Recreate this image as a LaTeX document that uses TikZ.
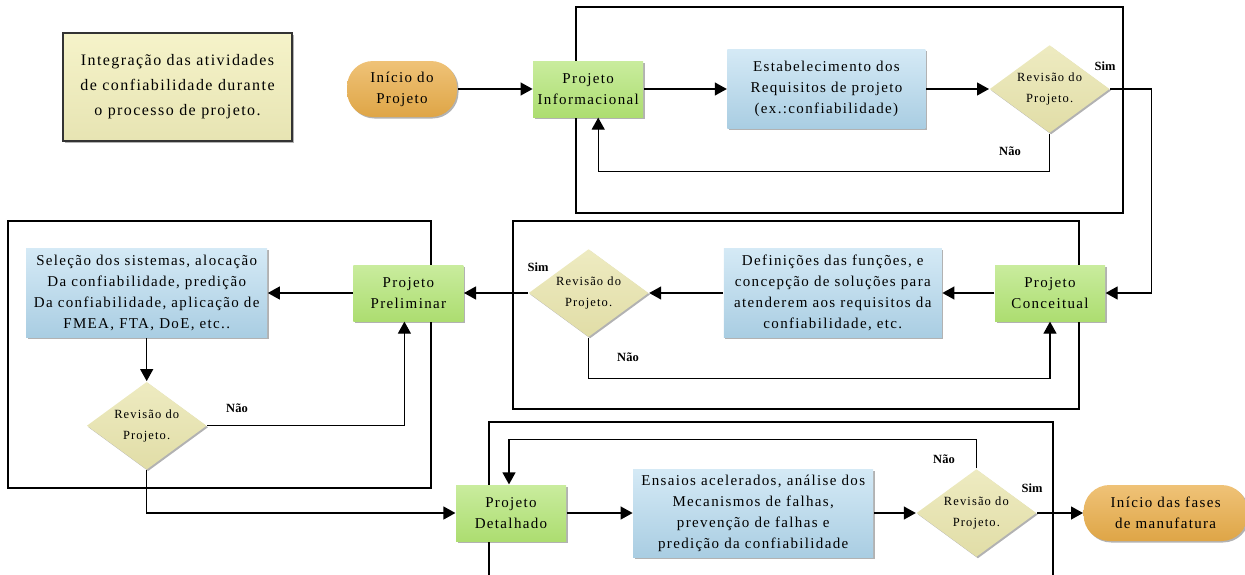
\documentclass[tikz,border=0pt]{standalone}
\usepackage{fontspec}
\setmainfont{Liberation Serif}[LetterSpace=9]
\newfontfamily\lblfont{Liberation Serif}
\usepackage{tikz}
\usetikzlibrary{arrows.meta}
\usetikzlibrary{positioning}
\usetikzlibrary{shapes.geometric}
\usetikzlibrary{shadows}

\definecolor{laranja}{RGB}{234,174,74}
\definecolor{verde}{RGB}{178,228,116}
\definecolor{azul}{RGB}{178,216,238}
\definecolor{bege}{RGB}{232,228,172}
\definecolor{nota}{RGB}{243,240,188}

\begin{document}
\begin{tikzpicture}[x=1pt, y=-1pt, line width=1.2pt, >={Triangle[length=12pt,width=13pt]},
  sombra/.style={drop shadow={shadow xshift=1.5pt,shadow yshift=-1.5pt,opacity=.3,fill=black}},
  inicio/.style={rectangle, rounded corners=26pt, minimum width=110pt, minimum height=56pt, top color=laranja!75!white, bottom color=laranja!95!black, sombra, align=center, font=\fontsize{15}{21}\selectfont},
  fase/.style={rectangle, minimum width=110pt, minimum height=56pt, inner sep=2pt, top color=verde!70!white, bottom color=verde!97!black, sombra, align=center, font=\fontsize{15}{21}\selectfont},
  ativ/.style={rectangle, inner sep=2pt, top color=azul!55!white, bottom color=azul!95!black, sombra, align=center, font=\fontsize{15}{21}\selectfont},
  rev/.style={diamond, shape aspect=1.35, minimum width=120pt, minimum height=88pt, inner sep=0pt, top color=bege!75!white, bottom color=bege!97!black, sombra, align=center, font=\fontsize{12.5}{21}\selectfont},
  lbl/.style={font=\lblfont\bfseries\fontsize{12.5}{14}\selectfont}]
\useasboundingbox (0,0) rectangle (1245,574);

\draw (576,7) rectangle (1123,213);
\draw (513,221) rectangle (1079,409);
\draw (8,221) rectangle (431,488);
\draw (489,580) -- (489,422) -- (1053,422) -- (1053,580);

\node[rectangle, draw=black!80, line width=1.3pt, minimum width=229pt, minimum height=108pt, top color=nota!80!white, bottom color=nota!95!black, sombra, align=center, font=\fontsize{16}{25}\selectfont] (N) at (177.5,87) {Integração das atividades\\de confiabilidade durante\\o processo de projeto.};

\node[inicio] (I) at (402,89) {Início do\\Projeto};
\node[fase] (PI) [right=75pt of I] {Projeto\\Informacional};
\node[ativ, minimum width=198pt, minimum height=79pt] (E1) [right=83pt of PI] {Estabelecimento dos\\Requisitos de projeto\\(ex.:confiabilidade)};
\node[rev] (R1) [right=63pt of E1] {Revisão do\\Projeto.};

\node[fase] (PC) at (1050,293) {Projeto\\Conceitual};
\node[ativ, minimum width=218pt, minimum height=89pt] (E2) [left=52pt of PC] {Definições das funções, e\\concepção de soluções para\\atenderem aos requisitos da\\confiabilidade, etc.};
\node[rev] (R2) [left=74pt of E2] {Revisão do\\Projeto.};
\node[fase] (PP) [left=64pt of R2] {Projeto\\Preliminar};
\node[ativ, minimum width=241pt, minimum height=89pt] (E3) [left=85pt of PP] {Seleção dos sistemas, alocação\\Da confiabilidade, predição\\Da confiabilidade, aplicação de\\FMEA, FTA, DoE, etc..};
\node[rev] (R3) [below=43pt of E3] {Revisão do\\Projeto.};

\node[fase] (PD) at (511,513) {Projeto\\Detalhado};
\node[ativ, minimum width=240pt, minimum height=88pt] (E4) [right=66pt of PD] {Ensaios acelerados, análise dos\\Mecanismos de falhas,\\prevenção de falhas e\\predição da confiabilidade};
\node[rev] (R4) [right=42pt of E4] {Revisão do\\Projeto.};
\node[inicio, minimum width=164pt] (F) [right=46pt of R4] {Início das fases\\de manufatura};

\node[lbl] (s1) at (1105,66) {Sim};
\node[lbl] (n1) at (1010,151) {Não};
\node[lbl] (s2) at (538,267) {Sim};
\node[lbl] (n2) at (628,357) {Não};
\node[lbl] (n3) at (237,408) {Não};
\node[lbl] (n4) at (944,459) {Não};
\node[lbl] (s4) at (1032,488) {Sim};

\draw[->] (I) -- (PI);
\draw[->] (PI) -- (E1);
\draw[->] (E1) -- (R1);
\draw[->] (R1.east) -- ++(41,0) |- (PC.east);
\draw[->] (R1.south) -- ++(0,38) -| ([xshift=10pt]PI.south);

\draw[->] (PC) -- (E2);
\draw[->] (E2) -- (R2);
\draw[->] (R2) -- (PP);
\draw[->] (R2.south) -- ++(0,41) -| (PC.south);
\draw[->] (PP) -- (E3);
\draw[->] (E3) -- (R3);
\draw[->] (R3.east) -| ([xshift=-4pt]PP.south);
\draw[->] (R3.south) |- (PD.west);

\draw[->] (PD) -- (E4);
\draw[->] (E4) -- (R4);
\draw[->] (R4) -- (F);
\draw[->] (R4.north) -- ++(0,-29) -| ([xshift=-2pt]PD.north);

\end{tikzpicture}
\end{document}
